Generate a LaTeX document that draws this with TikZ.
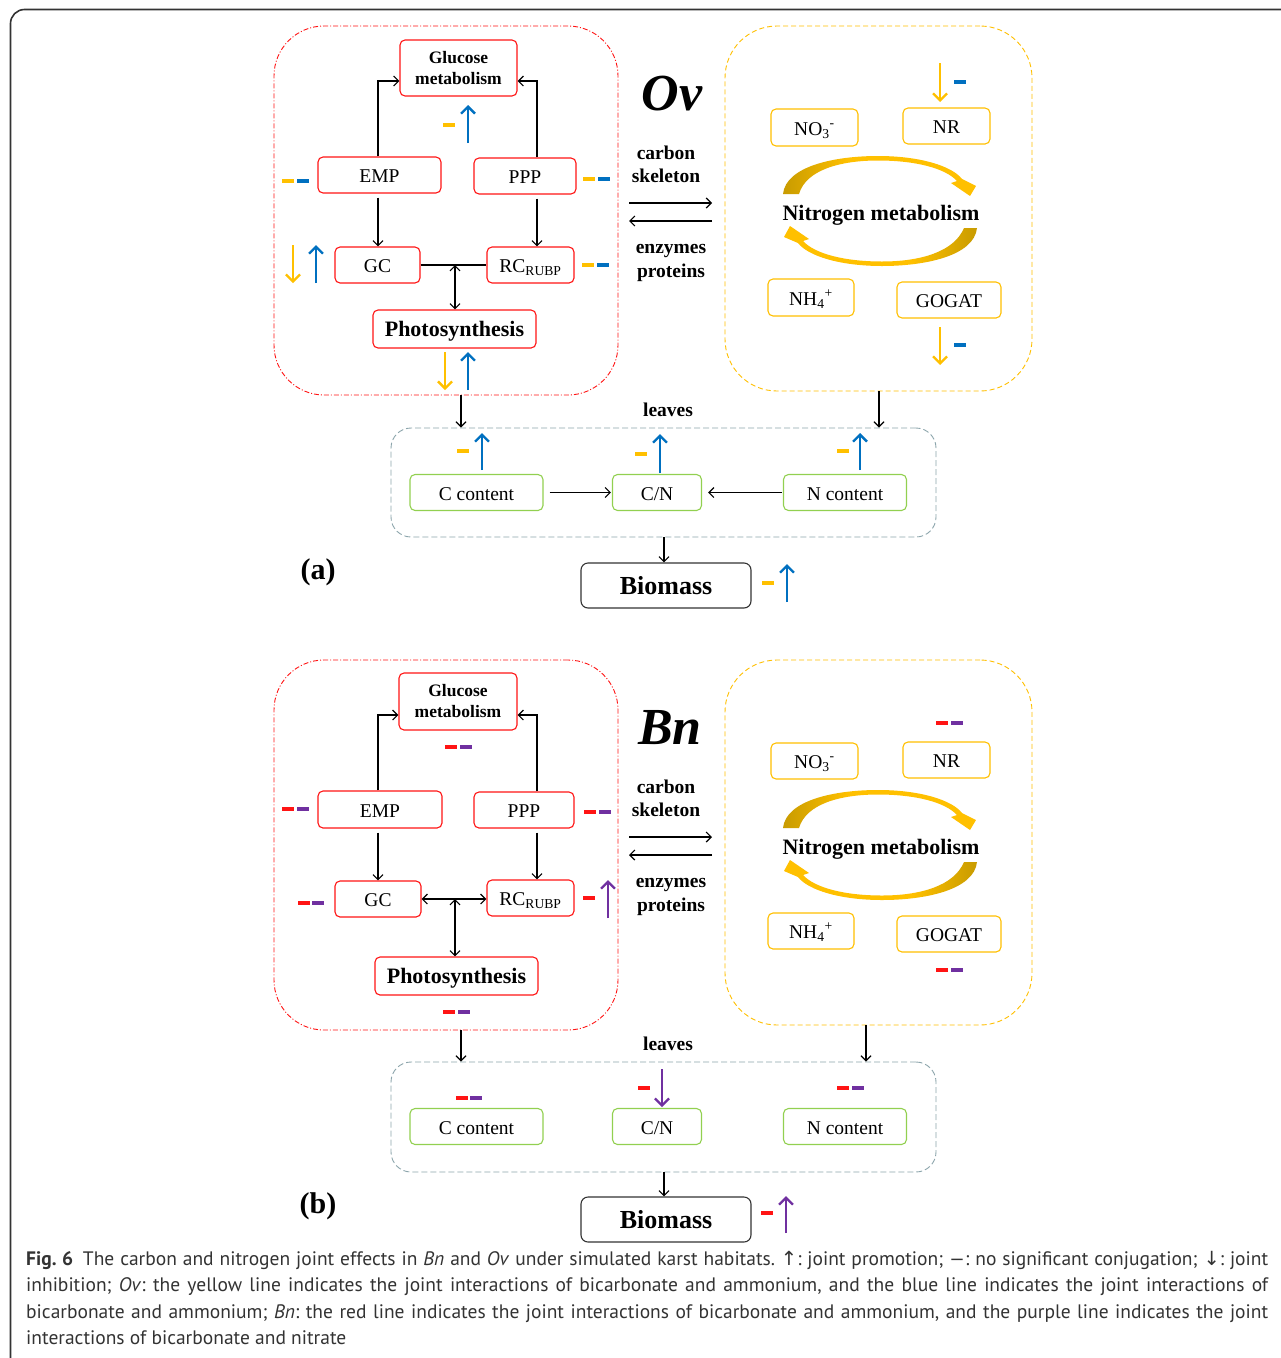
\documentclass[tikz,border=0pt]{standalone}
\usepackage{fontspec}
\setmainfont{Liberation Serif}
\newfontfamily\capfont[FakeStretch=1.0]{PT Sans}
\newfontfamily\symfont{DejaVu Sans}
\usetikzlibrary{arrows.meta,calc}
\definecolor{cR}{RGB}{255,20,20}
\definecolor{cY}{RGB}{255,192,0}
\definecolor{cYd}{RGB}{200,155,0}
\definecolor{cB}{RGB}{0,112,192}
\definecolor{cP}{RGB}{112,48,160}
\definecolor{cG}{RGB}{146,208,80}
\definecolor{cGr}{RGB}{140,165,172}
\pgfdeclarehorizontalshading{arcL}{100bp}{color(0bp)=(cYd); color(25bp)=(cYd); color(42bp)=(cY); color(100bp)=(cY)}
\pgfdeclarehorizontalshading{arcR}{100bp}{color(0bp)=(cY); color(58bp)=(cY); color(75bp)=(cYd); color(100bp)=(cYd)}
\newcommand\fsz[2]{\fontsize{#1}{#2}\selectfont}
\newcommand\dsh[3]{\draw[dashmark,#1] (#2-6,#3) -- (#2+6,#3);}
\newcommand\ia[4]{\draw[ind,#1] (#2,#3) -- (#2,#4);}
\newcommand\narcs{%
  \shade[shading=arcL]
    (783,194) .. controls (786,166) and (835,156) .. (878,156)
    .. controls (920,156) and (952,166) .. (962,179) -- (976,186) -- (970,196)
    -- (951,183) -- (957,181) .. controls (945,168) and (915,160.5) .. (878,160.5)
    .. controls (840,160.5) and (806,170) .. (799,194) -- cycle;
  \shade[shading=arcR]
    (977,228) .. controls (974,256) and (925,266) .. (882,266)
    .. controls (840,266) and (808,256) .. (798,243) -- (784,237) -- (790,226)
    -- (809,239) -- (803,241) .. controls (815,254) and (845,261.5) .. (882,261.5)
    .. controls (920,261.5) and (954,252) .. (964,228) -- cycle;
}
\begin{document}
\frenchspacing
\begin{tikzpicture}[x=1pt,y=-1pt,
  box/.style={inner sep=0pt, line width=1.1pt, rounded corners=5pt, minimum height=36pt},
  lbl/.style={font=\fsz{19.5}{23}, text height=16pt, text depth=1pt},
  rbox/.style={box, lbl, draw=cR},
  ybox/.style={box, lbl, draw=cY},
  gbox/.style={box, lbl, draw=cG},
  rpanel/.style={draw=cR, line width=0.9pt, rounded corners=50pt, dash pattern=on 5pt off 2pt on 1pt off 2pt},
  ypanel/.style={draw=cY, line width=0.9pt, rounded corners=52pt, dash pattern=on 5pt off 3pt},
  gpanel/.style={draw=cGr, line width=0.9pt, rounded corners=20pt, dash pattern=on 6pt off 3pt},
  biobox/.style={box, draw=black!80, rounded corners=7pt, font=\fsz{26}{30}\bfseries, text height=20pt, text depth=3pt},
  photo/.style={box, draw=cR, minimum width=163pt, minimum height=38pt, font=\fsz{22}{26}\bfseries, text height=17pt, text depth=3pt},
  gluc/.style={box, draw=cR, font=\fsz{17.5}{21}\bfseries, align=center},
  conn/.style={line width=1.2pt},
  arr/.style={conn, -{Straight Barb[length=5pt,width=10pt]}},
  darr/.style={conn, {Straight Barb[length=5pt,width=10pt]}-{Straight Barb[length=5pt,width=10pt]}},
  ind/.style={line width=2.3pt, -{Straight Barb[length=7pt,width=14pt]}},
  dashmark/.style={line width=3.4pt},
  bold/.style={font=\fsz{19.5}{23.5}\bfseries, align=center, inner sep=0pt},
  nmet/.style={font=\fsz{22}{26}\bfseries, inner sep=0pt},
  big/.style={font=\fsz{52}{52}\bfseries\itshape, inner sep=0pt}
]
\useasboundingbox (0,0) rectangle (1281,1358);
\fill[white] (0,0) rectangle (1281,1358);
\draw[line width=1.6pt, black!80, rounded corners=14pt] (1295,9.5) -- (10.5,9.5) -- (10.5,1370);

% ================= (a) =================
\node[rpanel, minimum width=344pt, minimum height=369pt] (redA) at (446,210.5) {};
\node[ypanel, minimum width=307pt, minimum height=365pt] (yelA) at (878.5,208.5) {};

\node[gluc, minimum width=117pt, minimum height=56pt] (gluA) at (458.5,68) {Glucose\\metabolism};
\node[rbox, minimum width=123pt] (empA) at (379.5,175) {EMP};
\node[rbox, minimum width=102pt] (pppA) at (525,176) {PPP};
\node[rbox, minimum width=85pt] (gcA) at (377.5,265) {GC};
\node[rbox, minimum width=87pt] (rcA) at (530.5,265) {RC\textsubscript{RUBP}};
\node[photo] (phoA) at (454.5,329) {Photosynthesis};

\draw[arr] (empA.north -| 378,0) |- (gluA.west |- 0,81);
\draw[arr] (pppA.north -| 537,0) |- (gluA.east |- 0,81);
\draw[arr] ([yshift=-4pt]empA.south -| 378,0) -- (gcA.north -| 378,0);
\draw[arr] ([yshift=-4pt]pppA.south -| 537,0) -- (rcA.north -| 537,0);
\draw[conn] (gcA.east) -- (rcA.west);
\draw[darr] (phoA.north -| 455,0) -- (gcA.east -| 455,0);

\dsh{cY}{449}{125} \ia{cB}{468}{143}{105}
\dsh{cY}{288}{181} \dsh{cB}{303}{181}
\dsh{cY}{589}{179} \dsh{cB}{604}{179}
\ia{cY}{293}{245}{283} \ia{cB}{316}{283}{245}
\dsh{cY}{588}{265} \dsh{cB}{603}{265}
\ia{cY}{445}{352}{390} \ia{cB}{468}{390}{352}

\node[big] (ov) at (672,94) {Ov};
\node[bold] (csA) at (666,164.5) {carbon\\skeleton};
\node[bold] (epA) at (671,263) {enzymes\\proteins};
\coordinate (a1) at (629,203); \coordinate (a2) at (712,203);
\coordinate (a3) at (712,221); \coordinate (a4) at (629,221);
\draw[arr] (a1) -- (a2);
\draw[arr] (a3) -- (a4);

\node[ybox, minimum width=87pt, minimum height=37pt] (no3A) at (814.5,127.5) {NO\textsubscript{3}\textsuperscript{-}};
\node[ybox, minimum width=87pt] (nrA) at (946.5,126) {NR};
\node[ybox, minimum width=86pt, minimum height=37pt] (nh4A) at (811,297.5) {NH\textsubscript{4}\textsuperscript{+}};
\node[ybox, minimum width=104pt] (gogA) at (949,300) {GOGAT};
\narcs
\node[nmet] (nmA) at (881,215) {Nitrogen metabolism};
\ia{cY}{940}{63}{102} \dsh{cB}{960}{82}
\ia{cY}{940}{327}{365} \dsh{cB}{960}{345}

\node[font=\fsz{19.5}{23}\bfseries, inner sep=0pt] (lvA) at (668,410) {leaves};
\node[gpanel, minimum width=545pt, minimum height=109pt] (leavA) at (663.5,482.5) {};
\draw[arr] (redA.south -| 461,0) -- (leavA.north -| 461,0);
\draw[arr] (yelA.south -| 879,0) -- (leavA.north -| 879,0);
\node[gbox, minimum width=133pt] (ccA) at (476.5,492.5) {C content};
\node[gbox, minimum width=89pt] (cnA) at (657,492.5) {C/N};
\node[gbox, minimum width=123pt] (ncA) at (845,492.5) {N content};
\draw[arr] ([xshift=6pt]ccA.east) -- ([xshift=-1pt]cnA.west);
\draw[arr] ([xshift=-1pt]ncA.west) -- ([xshift=6pt]cnA.east);
\dsh{cY}{463}{451} \ia{cB}{482}{470}{433}
\dsh{cY}{641}{454} \ia{cB}{660}{473}{434}
\dsh{cY}{843}{451} \ia{cB}{860}{470}{433}

\node[biobox, minimum width=170pt, minimum height=45pt] (bioA) at (666,585.5) {Biomass};
\draw[arr] (leavA.south -| 664,0) -- (bioA.north -| 664,0);
\dsh{cY}{768}{583} \ia{cB}{787}{602}{564}
\node[font=\fsz{30}{34}\bfseries, inner sep=0pt] (labA) at (318,572) {(a)};

% ================= (b) =================
\node[rpanel, minimum width=344pt, minimum height=370pt] (redB) at (446,845) {};
\node[ypanel, minimum width=307pt, minimum height=365pt] (yelB) at (878.5,842.5) {};

\node[gluc, minimum width=118pt, minimum height=57pt] (gluB) at (458,701.5) {Glucose\\metabolism};
\node[rbox, minimum width=124pt, minimum height=37pt] (empB) at (380,809.5) {EMP};
\node[rbox, minimum width=100pt] (pppB) at (524,810) {PPP};
\node[rbox, minimum width=86pt] (gcB) at (378,899) {GC};
\node[rbox, minimum width=87pt] (rcB) at (530.5,898) {RC\textsubscript{RUBP}};
\node[photo] (phoB) at (456.5,976) {Photosynthesis};

\draw[arr] (empB.north -| 378,0) |- (gluB.west |- 0,715);
\draw[arr] (pppB.north -| 537,0) |- (gluB.east |- 0,715);
\draw[arr] ([yshift=-4pt]empB.south -| 378,0) -- (gcB.north -| 378,0);
\draw[arr] ([yshift=-4pt]pppB.south -| 537,0) -- (rcB.north -| 537,0);
\draw[darr] (gcB.east) -- (rcB.west |- gcB.east);
\draw[darr] (phoB.north -| 455,0) -- (gcB.east -| 455,0);

\dsh{cR}{451}{747} \dsh{cP}{466}{747}
\dsh{cR}{288}{809} \dsh{cP}{303}{809}
\dsh{cR}{590}{812} \dsh{cP}{605}{812}
\dsh{cR}{304}{903} \dsh{cP}{318}{903}
\dsh{cR}{589}{898} \ia{cP}{608}{918}{880}
\dsh{cR}{449}{1012} \dsh{cP}{464}{1012}

\node[big] (bn) at (670,728) {Bn};
\node[bold] (csB) at (666,798.5) {carbon\\skeleton};
\node[bold] (epB) at (671,897) {enzymes\\proteins};
\coordinate (b1) at (629,837); \coordinate (b2) at (712,837);
\coordinate (b3) at (712,855); \coordinate (b4) at (629,855);
\draw[arr] (b1) -- (b2);
\draw[arr] (b3) -- (b4);

\node[ybox, minimum width=87pt] (no3B) at (814.5,761) {NO\textsubscript{3}\textsuperscript{-}};
\node[ybox, minimum width=87pt] (nrB) at (946.5,760) {NR};
\node[ybox, minimum width=86pt] (nh4B) at (811,931) {NH\textsubscript{4}\textsuperscript{+}};
\node[ybox, minimum width=104pt] (gogB) at (949,934) {GOGAT};
\begin{scope}[yshift=-634pt]
\narcs
\end{scope}
\node[nmet] (nmB) at (881,849) {Nitrogen metabolism};
\dsh{cR}{942}{723} \dsh{cP}{957}{723}
\dsh{cR}{942}{970} \dsh{cP}{957}{970}

\node[font=\fsz{19.5}{23}\bfseries, inner sep=0pt] (lvB) at (668,1044) {leaves};
\node[gpanel, minimum width=545pt, minimum height=110pt] (leavB) at (663.5,1117) {};
\draw[arr] (redB.south -| 461,0) -- (leavB.north -| 461,0);
\draw[arr] (yelB.south -| 866,0) -- (leavB.north -| 866,0);
\node[gbox, minimum width=133pt] (ccB) at (476.5,1126.5) {C content};
\node[gbox, minimum width=89pt] (cnB) at (657,1126.5) {C/N};
\node[gbox, minimum width=123pt] (ncB) at (845,1126.5) {N content};
\dsh{cR}{462}{1098} \dsh{cP}{476}{1098}
\dsh{cR}{644}{1088} \ia{cP}{662}{1069}{1107}
\dsh{cR}{843}{1088} \dsh{cP}{858}{1088}

\node[biobox, minimum width=170pt, minimum height=45pt] (bioB) at (666,1219.5) {Biomass};
\draw[arr] (leavB.south -| 664,0) -- (bioB.north -| 664,0);
\dsh{cR}{767}{1213} \ia{cP}{786}{1233}{1196}
\node[font=\fsz{30}{34}\bfseries, inner sep=0pt] (labB) at (318,1206) {(b)};

% ================= caption =================
\node[anchor=north west, text width=1242pt, align=justify, inner sep=0pt,
      font=\capfont\fsz{19.5}{26.3}, text=black!80] (cap) at (26,1251)
{\textbf{Fig.~6}\enspace The carbon and nitrogen joint effects in \textit{Bn} and \textit{Ov} under simulated karst habitats. {\symfont ↑}: joint promotion; —: no significant conjugation; {\symfont ↓}: joint\linebreak
inhibition; \textit{Ov}: the yellow line indicates the joint interactions of bicarbonate and ammonium, and the blue line indicates the joint interactions of\linebreak
bicarbonate and ammonium; \textit{Bn}: the red line indicates the joint interactions of bicarbonate and ammonium, and the purple line indicates the joint\linebreak
interactions of bicarbonate and nitrate};
\end{tikzpicture}
\end{document}
